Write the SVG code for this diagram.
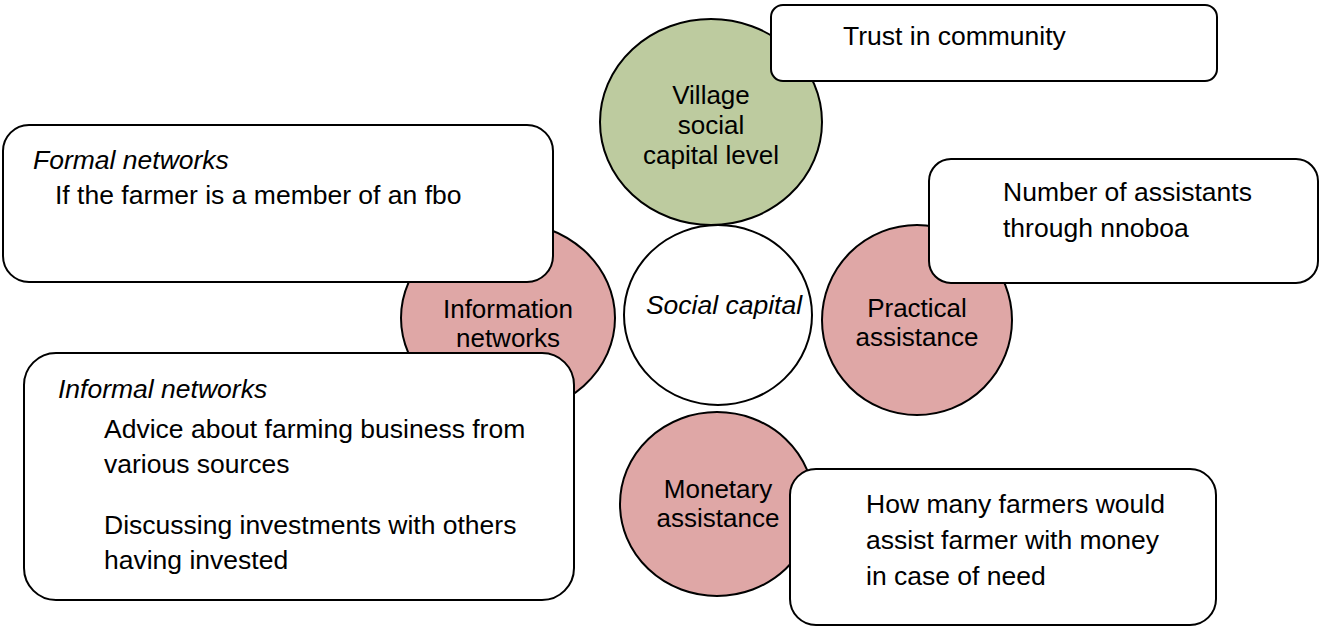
<svg xmlns="http://www.w3.org/2000/svg" width="1319" height="627" viewBox="0 0 1319 627">
<style>
.circ{stroke:#000;stroke-width:2}
.green{fill:#bdcb9f}
.pink{fill:#dfa7a6}
.white{fill:#fff}
.box{fill:#fff;stroke:#000;stroke-width:2}
text{font-family:"Liberation Sans",Arial,sans-serif;font-size:26.5px;fill:#000}
.c{text-anchor:middle}
.s{font-size:26px}
.i{font-style:italic}
</style>
<rect width="1319" height="627" fill="#fff"/>
<g id="connectors"></g>
<g id="village">
<ellipse class="circ green" cx="711" cy="122" rx="111" ry="103"/>
<text class="c s" x="711" y="104">Village</text>
<text class="c s" x="711" y="134">social</text>
<text class="c s" x="711" y="164">capital level</text>
</g>
<g id="social-capital">
<ellipse class="circ white" cx="718" cy="315" rx="94" ry="90"/>
<text class="c i" x="724" y="314">Social capital</text>
</g>
<g id="information-networks">
<ellipse class="circ pink" cx="508" cy="318" rx="107" ry="96"/>
<text class="c s" x="508" y="318">Information</text>
<text class="c s" x="508" y="347">networks</text>
</g>
<g id="practical-assistance">
<ellipse class="circ pink" cx="917" cy="320" rx="95" ry="95"/>
<text class="c s" x="917" y="317">Practical</text>
<text class="c s" x="917" y="346">assistance</text>
</g>
<g id="monetary-assistance">
<ellipse class="circ pink" cx="717" cy="504" rx="97" ry="92"/>
<text class="c s" x="718" y="498">Monetary</text>
<text class="c s" x="718" y="527">assistance</text>
</g>
<g id="trust-box">
<rect class="box" x="771" y="5" width="446" height="76" rx="12"/>
<text x="843" y="45">Trust in community</text>
</g>
<g id="formal-box">
<rect class="box" x="3" y="125" width="550" height="157" rx="26"/>
<text class="i" x="33" y="169">Formal networks</text>
<text x="55" y="204">If the farmer is a member of an fbo</text>
</g>
<g id="informal-box">
<rect class="box" x="24" y="353" width="550" height="247" rx="32"/>
<text class="i" x="58" y="398">Informal networks</text>
<text x="104" y="438">Advice about farming business from</text>
<text x="104" y="473">various sources</text>
<text x="104" y="534">Discussing investments with others</text>
<text x="104" y="569">having invested</text>
</g>
<g id="practical-box">
<rect class="box" x="929" y="159" width="389" height="124" rx="22"/>
<text x="1003" y="201">Number of assistants</text>
<text x="1003" y="237">through nnoboa</text>
</g>
<g id="monetary-box">
<rect class="box" x="790" y="469" width="426" height="156" rx="26"/>
<text x="866" y="513">How many farmers would</text>
<text x="866" y="549">assist farmer with money</text>
<text x="866" y="585">in case of need</text>
</g>
</svg>
